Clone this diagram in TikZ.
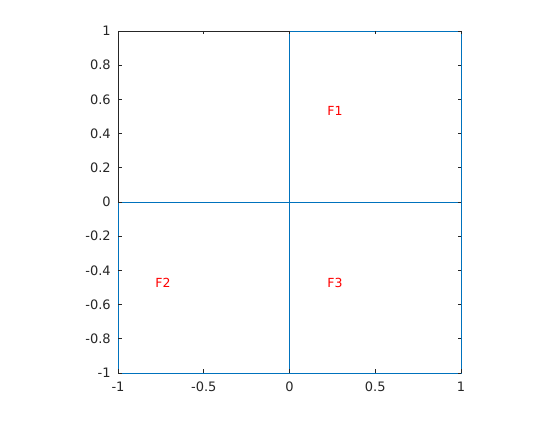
\documentclass[tikz,border=0pt]{standalone}
\usepackage{fontspec}
\setmainfont{DejaVu Sans}
\usepackage{tikz}
\usetikzlibrary{positioning}
\definecolor{lineblue}{rgb}{0,0.447,0.741}
\definecolor{axisgray}{rgb}{0.15,0.15,0.15}

\begin{document}
\begin{tikzpicture}[x=171.5pt,y=171pt,
    ticklabel/.style={font=\fontsize{13}{15}\selectfont, text=axisgray, inner sep=0pt},
    region/.style={draw=lineblue, line width=0.9pt},
    facelabel/.style={text=red, font=\fontsize{12.5}{14}\selectfont, inner sep=0pt}]
  \useasboundingbox (-1.688,-1.275) rectangle (1.577,1.181);
  % axes box
  \draw[axisgray, line width=0.6pt] (-1,-1) rectangle (1,1);
  % the three faces
  \draw[region] (0,0) rectangle (1,1);
  \draw[region] (-1,-1) rectangle (0,0);
  \draw[region] (0,-1) rectangle (1,0);
  % ticks
  \begin{scope}[axisgray, line width=0.6pt]
    \foreach \x/\t [count=\i] in {-1/-1,-0.5/-0.5,0/0,0.5/0.5,1/1} {
      \draw (\x,-1) -- ++(0,3.5pt);
      \draw (\x,1) -- ++(0,-3.5pt);
      \node[ticklabel, below=9pt] (xl\i) at (\x,-1) {\t};
    }
    \foreach \y/\t [count=\i] in {-1/-1,-0.8/-0.8,-0.6/-0.6,-0.4/-0.4,-0.2/-0.2,0/0,0.2/0.2,0.4/0.4,0.6/0.6,0.8/0.8,1/1} {
      \draw (-1,\y) -- ++(3.5pt,0);
      \draw (1,\y) -- ++(-3.5pt,0);
      \node[ticklabel, left=7pt] (yl\i) at (-1,\y) {\t};
    }
  \end{scope}
  % face labels
  \node[facelabel] (f1) at (0.265,0.532) {F1};
  \node[facelabel] (f2) at (-0.738,-0.474) {F2};
  \node[facelabel] (f3) at (0.265,-0.474) {F3};
\end{tikzpicture}
\end{document}
